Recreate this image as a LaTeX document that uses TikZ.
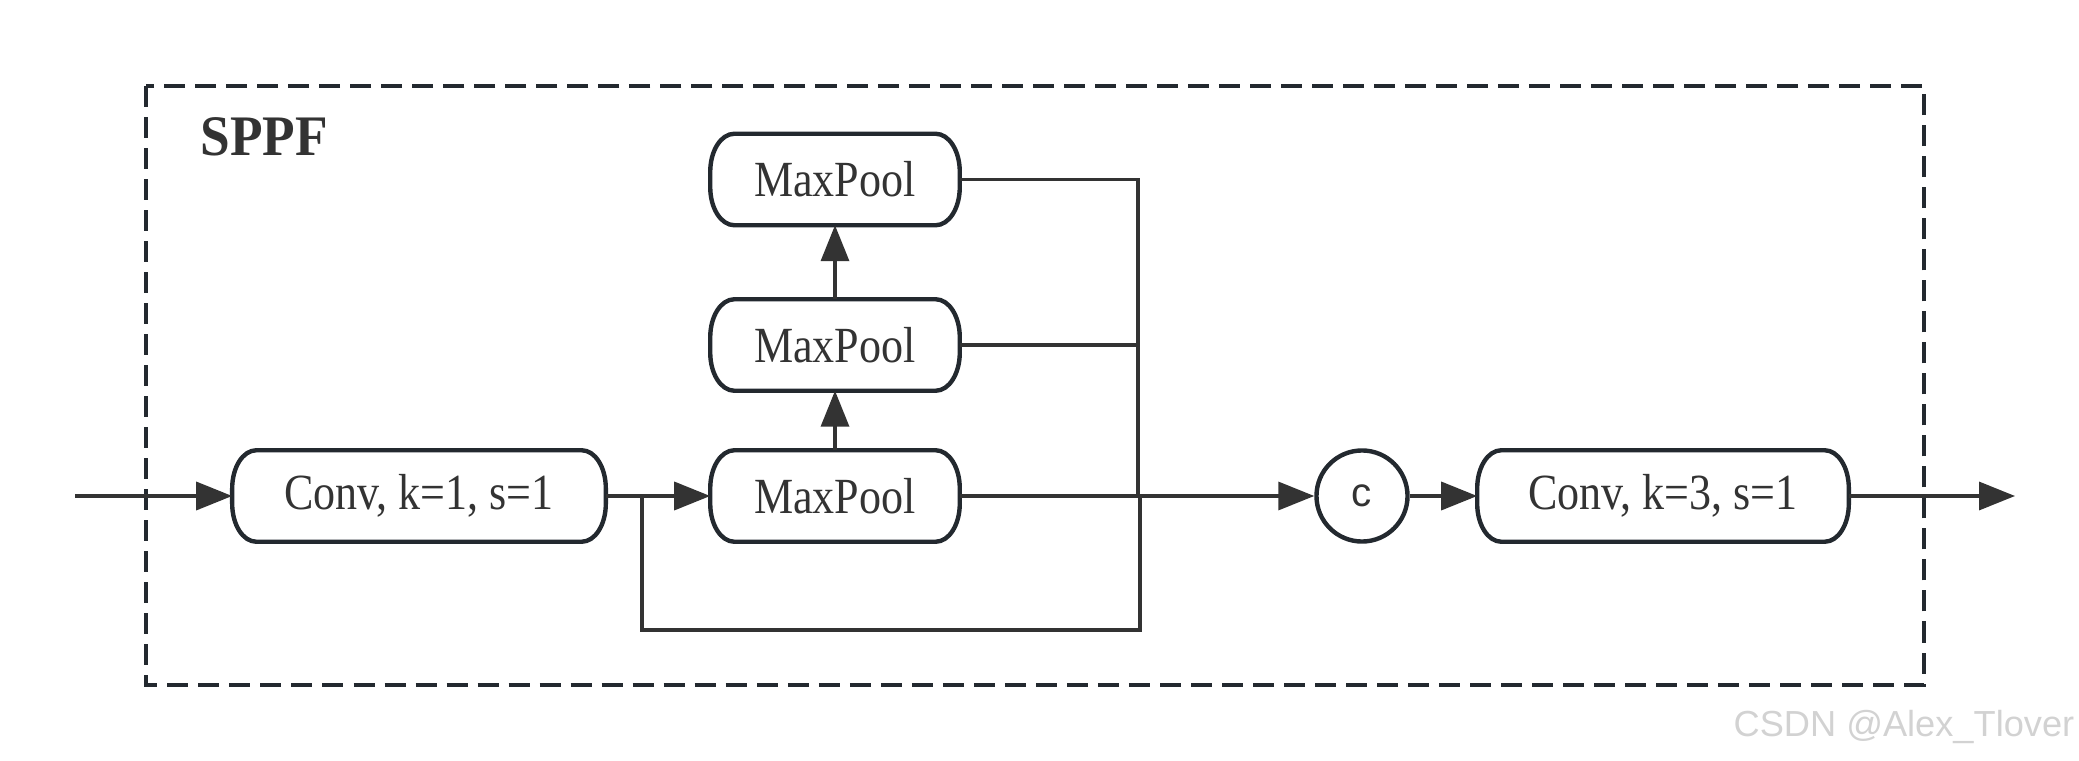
\documentclass[tikz,border=0pt]{standalone}
\usepackage{fontspec}
\usepackage{graphicx}
\setmainfont{Liberation Serif}
\newfontfamily\arialf{Liberation Sans}
\usetikzlibrary{arrows.meta}

\definecolor{inkline}{HTML}{23292F}
\definecolor{inkwire}{HTML}{333333}
\definecolor{inktext}{HTML}{333333}
\definecolor{markgray}{HTML}{D2D2D2}

% condensed serif label text
\newcommand\nar[1]{\scalebox{0.87}[1]{#1}}
% outline with elliptical corners around a named node
\newcommand\pilloutline[1]{%
  \draw[boxline] ([xshift=0.24cm]#1.north west) -- ([xshift=-0.24cm]#1.north east)
    arc[start angle=90,end angle=0,x radius=0.24cm,y radius=0.38cm]
    -- ([yshift=0.38cm]#1.south east)
    arc[start angle=0,end angle=-90,x radius=0.24cm,y radius=0.38cm]
    -- ([xshift=0.24cm]#1.south west)
    arc[start angle=270,end angle=180,x radius=0.24cm,y radius=0.38cm]
    -- ([yshift=-0.38cm]#1.north west)
    arc[start angle=180,end angle=90,x radius=0.24cm,y radius=0.38cm] -- cycle;}

\tikzset{
  boxline/.style={draw=inkline, line width=1.25pt, line join=round},
  pillbox/.style={inner sep=0pt, minimum height=0.9cm, text=inktext,
    font=\fontsize{14.4}{16}\selectfont},
  wire/.style={draw=inkwire, line width=1.0pt},
  arrowwire/.style={wire, -{Triangle[length=0.36cm,width=0.28cm]}},
  frame/.style={draw=inkline, line width=1.2pt, dash pattern=on 0.21cm off 0.10cm},
}

\begin{document}
\begin{tikzpicture}[x=0.01cm, y=-0.01cm]
  \useasboundingbox (0,0) rectangle (2079,761);

  % SPPF module frame
  \draw[frame] (146,86) rectangle (1924,685);
  \node[anchor=west, inner sep=0pt, text=inktext,
        font=\fontsize{16.3}{18}\selectfont\bfseries] (title) at (200,137)
        {\scalebox{0.93}[1]{SPPF}};

  % blocks
  \node[pillbox, minimum width=3.72cm] (conv1) at (419,496) {\nar{Conv, k=1, s=1}};
  \node[pillbox, minimum width=2.48cm] (mp1) at (835,496) {\nar{MaxPool}};
  \node[pillbox, minimum width=2.48cm] (mp2) at (835,345) {\nar{MaxPool}};
  \node[pillbox, minimum width=2.48cm] (mp3) at (835,179.5) {\nar{MaxPool}};
  \node[pillbox, minimum width=3.70cm] (conv2) at (1663,496) {\nar{Conv, k=3, s=1}};
  \node[circle, draw=inkline, line width=1.25pt, minimum size=0.91cm, inner sep=0pt,
        text=inktext, font=\arialf\fontsize{11.5}{12}\selectfont] (cat) at (1362,496) {c};

  \foreach \n in {conv1,mp1,mp2,mp3,conv2} {\pilloutline{\n}}

  % free ends and junctions
  \coordinate (in)  at (75,496);
  \coordinate (out) at (2015,496);
  \coordinate (split) at (642,496);
  \coordinate (splitlow) at (642,630);
  \coordinate (mergelow) at (1140,630);
  \coordinate (mergemid) at (1140,496);
  \coordinate (mergetop) at (1138,179.5);
  \coordinate (mergemp2) at (1138,345);
  \coordinate (mergebus) at (1138,496);

  % main flow
  \draw[arrowwire] (in) -- (conv1.west);
  \draw[arrowwire] (conv1.east) -- (mp1.west);
  \draw[arrowwire] (mp1.north) -- (mp2.south);
  \draw[arrowwire] (mp2.north) -- (mp3.south);
  \draw[arrowwire] (mp1.east) -- (cat.west);
  \draw[arrowwire] (cat.east) -- (conv2.west);
  \draw[arrowwire] (conv2.east) -- (out);

  % shortcut around the pooling stack
  \draw[wire] (split) -- (splitlow) -- (mergelow) -- (mergemid);
  % pooled outputs joining the concat bus
  \draw[wire] (mp3.east) -- (mergetop) -- (mergebus);
  \draw[wire] (mp2.east) -- (mergemp2);

  % watermark
  \node[anchor=east, inner sep=0pt, text=markgray,
        font=\arialf\fontsize{10.3}{12}\selectfont] (mark) at (2075,727) {CSDN @Alex\_Tlover};
\end{tikzpicture}
\end{document}
